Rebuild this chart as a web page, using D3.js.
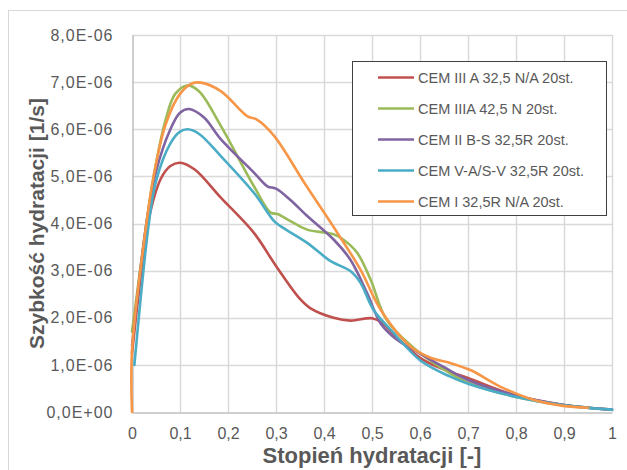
<!DOCTYPE html>
<html>
<head>
<meta charset="utf-8">
<script src="https://cdn.jsdelivr.net/npm/d3@7"></script>
<style>
  body { margin: 0; background: #fff; }
  svg { display: block; }
</style>
</head>
<body>
<svg id="chart" width="627" height="470"></svg>
<script>
// values of y are in 1E-06 1/s
const seriesNames = [
  'CEM III A 32,5 N/A 20st.',
  'CEM IIIA 42,5 N 20st.',
  'CEM II B-S 32,5R 20st.',
  'CEM V-A/S-V 32,5R 20st.',
  'CEM I 32,5R N/A 20st.',
]
const seriesColors = ['#c0504d', '#9bbb59', '#8064a2', '#4bacc6', '#f79646']

const cem3a = [
  [0, 1.25], [0.015, 2.6], [0.033, 4.0], [0.06, 4.95], [0.08, 5.22], [0.1, 5.29],
  [0.13, 5.15], [0.185, 4.55], [0.254, 3.8], [0.3, 3.1], [0.35, 2.4], [0.372, 2.2],
  [0.42, 2.0], [0.455, 1.94], [0.5, 1.99], [0.52, 1.9], [0.55, 1.6], [0.6, 1.15],
  [0.65, 0.9], [0.7, 0.72], [0.8, 0.35], [0.9, 0.15], [1.0, 0.05],
]
const cem3a425 = [
  [0, 1.7], [0.03, 4.0], [0.045, 5.0], [0.07, 6.2], [0.09, 6.75], [0.115, 6.93],
  [0.14, 6.8], [0.185, 6.07], [0.254, 4.79], [0.289, 4.23], [0.303, 4.2], [0.33, 4.05],
  [0.365, 3.87], [0.42, 3.77], [0.44, 3.66], [0.469, 3.38], [0.497, 2.81], [0.53, 1.96],
  [0.587, 1.36], [0.65, 0.9], [0.7, 0.62], [0.8, 0.32], [0.9, 0.15], [1.0, 0.05],
]
const cem2bs = [
  [0, 1.4], [0.03, 4.0], [0.05, 5.1], [0.08, 6.0], [0.1, 6.35], [0.119, 6.43],
  [0.15, 6.25], [0.185, 5.79], [0.254, 5.08], [0.282, 4.79], [0.3, 4.74], [0.33, 4.5],
  [0.365, 4.16], [0.42, 3.66], [0.455, 3.23], [0.49, 2.52], [0.518, 1.88], [0.55, 1.55],
  [0.587, 1.32], [0.65, 0.95], [0.7, 0.68], [0.8, 0.35], [0.9, 0.15], [1.0, 0.05],
]
const cem5 = [
  [0.005, 1.0], [0.035, 4.0], [0.05, 4.9], [0.08, 5.7], [0.1, 5.95], [0.116, 6.0],
  [0.14, 5.9], [0.185, 5.43], [0.254, 4.65], [0.296, 4.05], [0.31, 3.94], [0.365, 3.59],
  [0.414, 3.2], [0.455, 2.99], [0.476, 2.74], [0.503, 2.17], [0.545, 1.68], [0.6, 1.1],
  [0.663, 0.75], [0.7, 0.6], [0.8, 0.32], [0.9, 0.14], [1.0, 0.05],
]
const cem1 = [
  [0, 0], [0, 1.3], [0.03, 4.0], [0.045, 5.0], [0.07, 6.1], [0.1, 6.75], [0.125, 6.97],
  [0.143, 6.99], [0.185, 6.81], [0.24, 6.28], [0.261, 6.2], [0.296, 5.86], [0.36, 4.85],
  [0.428, 3.8], [0.476, 3.02], [0.518, 2.17], [0.58, 1.39], [0.622, 1.15], [0.663, 1.04],
  [0.705, 0.89], [0.767, 0.54], [0.836, 0.26], [0.898, 0.13], [0.95, 0.09],
]
const allSeries = [cem3a, cem3a425, cem2bs, cem5, cem1]

const xTicks = d3.range(0, 11).map((d) => d / 10)
const yTicks = d3.range(0, 9)

const width = 627
const height = 470
const margin = { top: 35, right: 15, bottom: 58, left: 132 }

const svg = d3.select('#chart')

// chart frame
svg
  .append('rect')
  .attr('x', 8.5)
  .attr('y', 10.5)
  .attr('width', 640)
  .attr('height', 480)
  .attr('fill', '#fff')
  .attr('stroke', '#d9d9d9')

const x = d3.scaleLinear().domain([0, 1]).range([margin.left, width - margin.right])
const y = d3.scaleLinear().domain([0, 8]).range([height - margin.bottom, margin.top])

const fmtY = (v) => (v === 0 ? '0,0E+00' : v + ',0E-06')
const fmtX = (v) => (v === 0 || v === 1 ? String(v) : String(v).replace('.', ','))

// gridlines
svg
  .append('g')
  .attr('id', 'grid')
  .call((g) =>
    g
      .selectAll('line.h')
      .data(yTicks.slice(1))
      .join('line')
      .attr('class', 'h')
      .attr('x1', x(0))
      .attr('x2', x(1))
      .attr('y1', (d) => Math.round(y(d)) + 0.5)
      .attr('y2', (d) => Math.round(y(d)) + 0.5)
  )
  .call((g) =>
    g
      .selectAll('line.v')
      .data(xTicks.slice(1))
      .join('line')
      .attr('class', 'v')
      .attr('x1', (d) => Math.round(x(d)) + 0.5)
      .attr('x2', (d) => Math.round(x(d)) + 0.5)
      .attr('y1', y(0))
      .attr('y2', y(8))
  )
  .attr('stroke', '#d9d9d9')
  .attr('stroke-width', 1.5)

// axes
const xAxis = svg
  .append('g')
  .attr('transform', `translate(0,${Math.round(y(0)) + 0.5})`)
  .call(d3.axisBottom(x).tickValues(xTicks).tickFormat(fmtX).tickSize(0).tickPadding(15))
const yAxis = svg
  .append('g')
  .attr('transform', `translate(${Math.round(x(0)) + 0.5},0)`)
  .call(d3.axisLeft(y).tickValues(yTicks).tickFormat(fmtY).tickSize(0).tickPadding(19))

;[xAxis, yAxis].forEach((a) => {
  a.select('.domain').attr('stroke', '#bfbfbf').attr('stroke-width', 1.5)
  a.selectAll('text')
    .attr('fill', '#595959')
    .attr('font-family', 'Liberation Sans, Arial, sans-serif')
    .attr('font-size', 16)
})
yAxis.selectAll('text').attr('letter-spacing', 1)

// series
const line = d3
  .line()
  .x((d) => x(d[0]))
  .y((d) => y(d[1]))
  .curve(d3.curveCatmullRom.alpha(0.5))

svg
  .append('g')
  .attr('id', 'lines')
  .selectAll('path')
  .data(allSeries)
  .join('path')
  .attr('d', line)
  .attr('fill', 'none')
  .attr('stroke', (d, i) => seriesColors[i])
  .attr('stroke-width', 2.6)
  .attr('stroke-linejoin', 'round')
  .attr('stroke-linecap', 'round')

// axis titles
svg
  .append('text')
  .attr('x', (x(0) + x(1)) / 2)
  .attr('y', 463)
  .attr('text-anchor', 'middle')
  .attr('font-family', 'Liberation Sans, Arial, sans-serif')
  .attr('font-weight', 'bold')
  .attr('font-size', 22)
  .attr('fill', '#595959')
  .text('Stopień hydratacji [-]')

svg
  .append('text')
  .attr('transform', `translate(44,${(y(0) + y(8)) / 2}) rotate(-90)`)
  .attr('text-anchor', 'middle')
  .attr('font-family', 'Liberation Sans, Arial, sans-serif')
  .attr('font-weight', 'bold')
  .attr('font-size', 21)
  .attr('fill', '#595959')
  .text('Szybkość hydratacji [1/s]')

// legend
const legend = svg.append('g').attr('id', 'legend')
legend
  .append('rect')
  .attr('x', 352.5)
  .attr('y', 61.5)
  .attr('width', 254)
  .attr('height', 154)
  .attr('fill', '#fff')
  .attr('stroke', '#404040')
  .attr('stroke-width', 1)

const items = legend
  .selectAll('g')
  .data(seriesNames)
  .join('g')
  .attr('transform', (d, i) => `translate(0,${77.5 + i * 31})`)

items
  .append('line')
  .attr('x1', 378)
  .attr('x2', 414)
  .attr('stroke', (d, i) => seriesColors[i])
  .attr('stroke-width', 2.6)

items
  .append('text')
  .attr('x', 418)
  .attr('dy', '0.35em')
  .attr('font-family', 'Liberation Sans, Arial, sans-serif')
  .attr('font-size', 14.5)
  .attr('fill', '#595959')
  .text((d) => d)
</script>
</body>
</html>
